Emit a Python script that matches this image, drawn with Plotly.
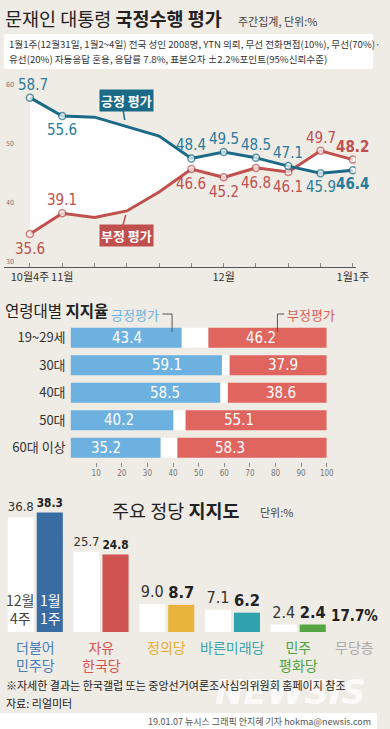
import plotly.graph_objects as go

# ---------------- data ----------------
weeks = ["10월4주", "11월1주", "11월2주", "11월3주", "11월4주", "11월5주",
         "12월1주", "12월2주", "12월3주", "12월4주", "1월1주"]
positive = [58.7, 55.6, 55.4, 53.8, 52.2, 48.4, 49.5, 48.5, 47.1, 45.9, 46.4]
negative = [35.6, 39.1, 38.4, 39.5, 42.7, 46.6, 45.2, 46.8, 46.1, 49.7, 48.2]
week_tick_labels = {"10월4주": "10월4주", "11월1주": "11월", "12월1주": "12월", "1월1주": "1월1주"}
unlabeled_weeks = ["11월2주", "11월3주", "11월4주"]
y_ticks = [30, 40, 50, 60]

age_groups = ["19~29세", "30대", "40대", "50대", "60대 이상"]
age_pos = [43.4, 59.1, 58.5, 40.2, 35.2]
age_neg = [46.2, 37.9, 38.6, 55.1, 58.3]
age_ticks = [10, 20, 30, 40, 50, 60, 70, 80, 90, 100]

parties = ["더불어<br>민주당", "자유<br>한국당", "정의당", "바른미래당", "민주<br>평화당"]
party_prev = [36.8, 25.7, 9.0, 7.1, 2.4]
party_now = [38.3, 24.8, 8.7, 6.2, 2.4]
no_party = 17.7

# ---------------- style ----------------
W, H = 390, 729
BG = "#efebe5"
KR = "Noto Sans CJK KR"
NUM = "DejaVu Sans Condensed, Liberation Sans Narrow, Arial Narrow, Roboto, sans-serif"
BLUE = "#1b6a87"
BLUE_T = "#2a7c9c"
RED = "#c0504d"
AGE_BLUE = "#6db1e1"
AGE_RED = "#df655e"
PARTY_COL = ["#3a6ca4", "#d0534f", "#e8b43c", "#2fa2ad", "#54a544"]
PARTY_TXT = ["#4a7db8", "#d9534f", "#e6ad2e", "#35a5ae", "#4da23f"]


def fx(px):
    return px / W


def fy(py):
    return 1 - py / H


def note(xp, yp, text, size, color, family=KR, xanchor="center", yanchor="middle", **kw):
    return dict(x=fx(xp), y=fy(yp), xref="paper", yref="paper", text=text, showarrow=False,
                xanchor=xanchor, yanchor=yanchor,
                font=dict(family=family, size=size, color=color), **kw)


fig = go.Figure()

# ---------------- line chart ----------------
xi = list(range(len(weeks)))
lab_idx = [i for i, w in enumerate(weeks) if w not in unlabeled_weeks]
msize = [0 if w in unlabeled_weeks else 7 for w in weeks]
last = len(weeks) - 1

fig.add_trace(go.Scatter(x=xi, y=negative, mode="lines", line=dict(width=0),
                         xaxis="x", yaxis="y", hoverinfo="skip", showlegend=False))
fig.add_trace(go.Scatter(x=xi, y=positive, mode="lines", line=dict(width=0),
                         fill="tonexty", fillcolor="white",
                         xaxis="x", yaxis="y", hoverinfo="skip", showlegend=False))
fig.add_trace(go.Scatter(x=xi, y=negative, mode="lines+markers",
                         line=dict(color=RED, width=3),
                         marker=dict(size=msize, color="white", line=dict(color=RED, width=1.5)),
                         xaxis="x", yaxis="y", showlegend=False))
fig.add_trace(go.Scatter(x=xi, y=positive, mode="lines+markers",
                         line=dict(color=BLUE, width=3),
                         marker=dict(size=msize, color="white", line=dict(color=BLUE, width=1.5)),
                         xaxis="x", yaxis="y", showlegend=False))

pos_below = {"11월1주", "12월4주", "1월1주"}
ann = []
for i in lab_idx:
    w = weeks[i]
    below = w in pos_below
    pt = f"{positive[i]:.1f}"
    nt = f"{negative[i]:.1f}"
    if i == last:
        pt, nt = f"<b>{pt}</b>", f"<b>{nt}</b>"
    ann.append(dict(x=i, y=positive[i], xref="x", yref="y", text=pt,
                    showarrow=False, xanchor="center", yanchor="middle",
                    xshift=3 if i == 0 else 0,
                    yshift=-14 if below else 13,
                    font=dict(family=NUM, size=15, color=BLUE_T)))
    ann.append(dict(x=i, y=negative[i], xref="x", yref="y", text=nt,
                    showarrow=False, xanchor="center", yanchor="middle",
                    yshift=13 if below else -15,
                    font=dict(family=NUM, size=15, color=RED)))

for v in y_ticks:
    ann.append(dict(x=fx(10), y=v, xref="paper", yref="y", text=str(v), showarrow=False,
                    xanchor="center", yanchor="middle", yshift=5,
                    font=dict(family=NUM, size=7, color="#777")))

# series label boxes
ann.append(note(131, 100, "<b>긍정 평가</b>", 13, "white", bgcolor=BLUE, borderpad=1))
ann.append(note(131, 235, "<b>부정 평가</b>", 13, "white", bgcolor=RED, borderpad=1))

shapes = []
shapes.append(dict(type="line", xref="paper", yref="paper", x0=fx(127), y0=fy(108),
                   x1=fx(129), y1=fy(120), line=dict(color=BLUE, width=1.5)))
shapes.append(dict(type="line", xref="paper", yref="paper", x0=fx(127), y0=fy(226),
                   x1=fx(130), y1=fy(215), line=dict(color=RED, width=1.5)))

# ---------------- age bars ----------------
gap = [100 - p - n for p, n in zip(age_pos, age_neg)]
red_base = [100 - n for n in age_neg]
fig.add_trace(go.Bar(y=age_groups, x=age_pos, base=[0] * len(age_pos), orientation="h",
                     marker=dict(color=AGE_BLUE, line=dict(width=0)), width=0.73,
                     xaxis="x2", yaxis="y2", showlegend=False))
fig.add_trace(go.Bar(y=age_groups, x=gap, base=age_pos, orientation="h",
                     marker=dict(color="white", line=dict(width=0)), width=0.73,
                     xaxis="x2", yaxis="y2", showlegend=False))
fig.add_trace(go.Bar(y=age_groups, x=age_neg, base=red_base, orientation="h",
                     marker=dict(color=AGE_RED, line=dict(width=0)), width=0.73,
                     xaxis="x2", yaxis="y2", showlegend=False))
for g, p, n in zip(age_groups, age_pos, age_neg):
    ann.append(dict(x=p, y=g, xref="x2", yref="y2", text=f"{p:.1f}", showarrow=False,
                    xanchor="right", yanchor="middle", xshift=-38,
                    font=dict(family=NUM, size=15, color="white")))
    ann.append(dict(x=100 - n, y=g, xref="x2", yref="y2", text=f"{n:.1f}", showarrow=False,
                    xanchor="left", yanchor="middle", xshift=36,
                    font=dict(family=NUM, size=15, color="white")))

ann.append(note(140, 315, "긍정평가", 13, AGE_BLUE))
ann.append(note(322, 315, "부정평가", 13, "#d85f58"))
shapes.append(dict(type="path", xref="paper", yref="paper",
                   path=f"M {fx(168)} {fy(314)} L {fx(178)} {fy(314)} L {fx(178)} {fy(332)}",
                   line=dict(color="#555", width=1)))
shapes.append(dict(type="path", xref="paper", yref="paper",
                   path=f"M {fx(294)} {fy(314)} L {fx(287)} {fy(314)} L {fx(287)} {fy(332)}",
                   line=dict(color="#555", width=1)))

# ---------------- party bars ----------------
PX = 68.0
C0 = 36.5
px_i = list(range(len(parties)))
fig.add_trace(go.Bar(x=px_i, y=party_prev, offset=-28.5 / PX, width=27 / PX,
                     marker=dict(color="white", line=dict(width=0)),
                     text=[f"{v:.1f}" for v in party_prev], textposition="outside",
                     textfont=dict(family=NUM, size=16, color="#333"), cliponaxis=False,
                     xaxis="x3", yaxis="y3", showlegend=False))
fig.add_trace(go.Bar(x=px_i, y=party_now, offset=1.5 / PX, width=27 / PX,
                     marker=dict(color=PARTY_COL, line=dict(width=0)),
                     text=[f"<b>{v:.1f}</b>" for v in party_now], textposition="outside",
                     textfont=dict(family=NUM, size=17, color="#222"), cliponaxis=False,
                     xaxis="x3", yaxis="y3", showlegend=False))

for i, (name, col) in enumerate(zip(parties, PARTY_TXT)):
    ann.append(dict(x=i, y=fy(635), xref="x3", yref="paper", text=name, showarrow=False,
                    xanchor="center", yanchor="top",
                    font=dict(family=KR, size=14, color=col)))
ann.append(dict(x=0, y=0, xref="x3", yref="y3", text="12월<br>4주", showarrow=False,
                xanchor="center", xshift=-15, yanchor="bottom", yshift=2,
                font=dict(family=KR, size=14, color="#444")))
ann.append(dict(x=0, y=0, xref="x3", yref="y3", text="1월<br>1주", showarrow=False,
                xanchor="center", xshift=15, yanchor="bottom", yshift=2,
                font=dict(family=KR, size=14, color="white")))
ann.append(dict(x=len(parties), y=0, xref="x3", yref="y3", text=f"<b>{no_party:.1f}%</b>",
                showarrow=False, xanchor="center", xshift=-9, yanchor="bottom", yshift=5,
                font=dict(family=NUM, size=15, color="#222")))
ann.append(dict(x=len(parties), y=fy(635), xref="x3", yref="paper", text="무당층",
                showarrow=False, xanchor="center", xshift=-9, yanchor="top",
                font=dict(family=KR, size=14, color="#aaa")))

# ---------------- titles & texts ----------------
ann.append(note(3, 18, "문재인 대통령 <b>국정수행 평가</b>", 18.5, "#222", xanchor="left"))
ann.append(note(244, 21, "주간집계, 단위:%", 11, "#444", xanchor="left"))
shapes.append(dict(type="rect", xref="paper", yref="paper", x0=fx(4), x1=fx(386),
                   y0=fy(69), y1=fy(34), fillcolor="white", line=dict(width=0), layer="below"))
ann.append(note(7, 44, "1월1주(12월31일, 1월2~4일) 전국 성인 2008명, YTN 의뢰, 무선 전화면접(10%), 무선(70%)·",
                9.6, "#333", xanchor="left"))
ann.append(note(7, 59, "유선(20%) 자동응답 혼용, 응답률 7.8%, 표본오차 ±2.2%포인트(95%신뢰수준)",
                9.6, "#333", xanchor="left"))

ann.append(note(3, 310, "연령대별 <b>지지율</b>", 15.5, "#222", xanchor="left"))
ann.append(note(114, 510, "주요 정당 <b>지지도</b>", 18.5, "#222", xanchor="left"))
ann.append(note(267, 512, "단위:%", 11, "#444", xanchor="left"))

ann.append(note(300, 692, "<b><i>NEWSIS</i></b>", 34, "rgba(255,255,255,0.75)", family="DejaVu Sans"))
ann.append(note(4, 685, "※자세한 결과는 한국갤럽 또는 중앙선거여론조사심의위원회 홈페이지 참조",
                11, "#222", xanchor="left"))
ann.append(note(4, 703, "자료: 리얼미터", 11, "#222", xanchor="left"))
shapes.append(dict(type="rect", xref="paper", yref="paper", x0=0, x1=1,
                   y0=0, y1=fy(713), fillcolor="white", line=dict(width=0), layer="below"))
ann.append(note(386, 721, "19.01.07 뉴시스 그래픽 안지혜 기자 hokma@newsis.com", 9, "#555",
                xanchor="right"))

# ---------------- layout ----------------
x1_px, x1_0 = 33.4, 31
y1_px = 5.9
fig.update_layout(
    width=W, height=H, margin=dict(l=0, r=0, t=0, b=0),
    paper_bgcolor=BG, plot_bgcolor="rgba(0,0,0,0)",
    barmode="overlay", showlegend=False,
    annotations=ann, shapes=shapes,
    xaxis=dict(domain=[fx(4), fx(368)], range=[(4 - x1_0) / x1_px, (368 - x1_0) / x1_px],
               tickvals=xi, ticktext=[week_tick_labels.get(w, "") for w in weeks],
               tickangle=0,
               ticks="inside", ticklen=4, tickcolor="#888", showline=True, linecolor="#555",
               linewidth=1, showgrid=False, zeroline=False,
               tickfont=dict(family=KR, size=11, color="#333"), anchor="y"),
    yaxis=dict(domain=[fy(267), fy(80)], range=[30, 30 + 187 / y1_px], visible=False,
               anchor="x"),
    xaxis2=dict(domain=[fx(73), fx(338)], range=[0, 100], tickvals=age_ticks, tickangle=0,
                ticks="outside", ticklen=4, tickcolor="#888", showline=False, showgrid=False,
                zeroline=False, tickfont=dict(family=NUM, size=8, color="#777"), anchor="y2"),
    yaxis2=dict(domain=[fy(461.5), fy(324)], autorange="reversed", showgrid=False,
                showline=False, zeroline=False, ticks="",
                tickfont=dict(family=KR, size=13, color="#333"), anchor="x2",
                ticklabelstandoff=4),
    xaxis3=dict(domain=[0, 1], range=[-C0 / PX, (W - C0) / PX], visible=False, anchor="y3"),
    yaxis3=dict(domain=[fy(632), fy(500)], range=[0, 132 / 3.12], visible=False, anchor="x3"),
)

fig.write_html("out.html", config={"displayModeBar": False},
               post_script="document.body.style.margin='0px';document.body.style.padding='0px';")
